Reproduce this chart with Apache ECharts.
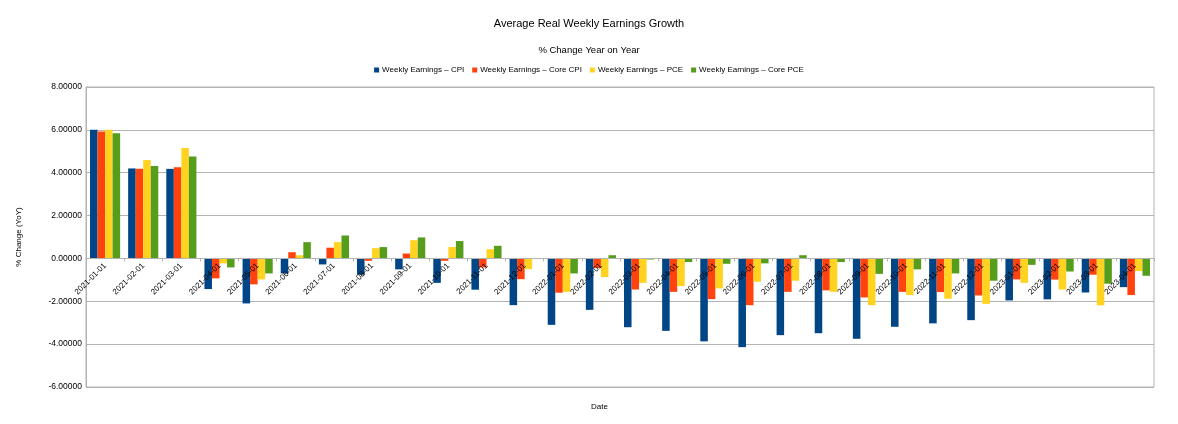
<!DOCTYPE html>
<html>
<head>
<meta charset="utf-8">
<script src="https://cdn.jsdelivr.net/npm/echarts@6/dist/echarts.min.js"></script>
<style>html,body{margin:0;padding:0;background:#fff;}#c{width:1178px;height:424px;}</style>
</head>
<body>
<div id="c"></div>
<script>
const categories = ["2021-01-01","2021-02-01","2021-03-01","2021-04-01","2021-05-01","2021-06-01","2021-07-01","2021-08-01","2021-09-01","2021-10-01","2021-11-01","2021-12-01","2022-01-01","2022-02-01","2022-03-01","2022-04-01","2022-05-01","2022-06-01","2022-07-01","2022-08-01","2022-09-01","2022-10-01","2022-11-01","2022-12-01","2023-01-01","2023-02-01","2023-03-01","2023-04-01"];
const cpi     = [6.00, 4.20, 4.18, -1.43, -2.10, -0.70, -0.28, -0.76, -0.51, -1.14, -1.46, -2.18, -3.10, -2.40, -3.21, -3.38, -3.87, -4.14, -3.58, -3.49, -3.75, -3.19, -3.03, -2.88, -1.96, -1.91, -1.59, -1.34];
const coreCpi = [5.92, 4.18, 4.26, -0.93, -1.21, 0.29, 0.50, -0.11, 0.23, -0.11, -0.42, -0.97, -1.60, -0.45, -1.45, -1.56, -1.90, -2.18, -1.56, -1.49, -1.82, -1.56, -1.57, -1.73, -0.98, -0.99, -0.76, -1.71];
const pce     = [6.00, 4.59, 5.15, -0.23, -0.98, 0.15, 0.76, 0.48, 0.85, 0.53, 0.43, -0.50, -1.56, -0.87, -1.14, -1.29, -1.40, -1.09, -1.04, -1.56, -2.18, -1.71, -1.88, -2.12, -1.14, -1.45, -2.19, -0.59];
const corePce = [5.84, 4.31, 4.76, -0.42, -0.70, 0.76, 1.07, 0.53, 0.98, 0.81, 0.59, -0.02, -0.70, 0.15, -0.05, -0.17, -0.25, -0.23, 0.15, -0.17, -0.72, -0.51, -0.70, -1.04, -0.30, -0.61, -1.18, -0.81];
const seriesNames = ["Weekly Earnings \u2013 CPI","Weekly Earnings \u2013 Core CPI","Weekly Earnings \u2013 PCE","Weekly Earnings \u2013 Core PCE"];
const colors = ["#004586","#ff420e","#ffd320","#579d1c"];
const yMin = -6, yMax = 8, yStep = 2;

const font = "Liberation Sans, Arial, sans-serif";
const gridTop = 87, gridBottom = 37, H = 424;
const plotH = H - gridTop - gridBottom;
const zeroOffset = -plotH * (0 - yMin) / (yMax - yMin);

const chart = echarts.init(document.getElementById('c'));
const mk = (name, data, color) => ({
  name, type: 'bar', data, barGap: '0%', barCategoryGap: '21%', z: 2,
  itemStyle: { color }, emphasis: { disabled: true }
});
chart.setOption({
  animation: false,
  textStyle: { fontFamily: font, color: '#000' },
  title: [
    { text: 'Average Real Weekly Earnings Growth', left: 'center', top: 13, textStyle: { fontSize: 11, fontWeight: 'normal', color: '#000', fontFamily: font } },
    { text: '% Change Year on Year', left: 'center', top: 40, textStyle: { fontSize: 9.5, fontWeight: 'normal', color: '#000', fontFamily: font } }
  ],
  legend: {
    top: 61, left: 'center', itemWidth: 5, itemHeight: 5, itemGap: 8,
    icon: 'rect', textStyle: { fontSize: 8, color: '#000', fontFamily: font, padding: [0,0,0,-2] },
    data: seriesNames
  },
  color: colors,
  grid: { left: 86, right: 24, top: gridTop, bottom: gridBottom, show: true, borderColor: '#b3b3b3', borderWidth: 1 },
  xAxis: {
    type: 'category', data: categories, z: 10,
    offset: zeroOffset,
    axisLine: { onZero: false, lineStyle: { color: '#b3b3b3' } },
    axisTick: { show: true, length: 3, lineStyle: { color: '#b3b3b3' } },
    axisLabel: { rotate: 45, fontSize: 8, color: '#000', margin: 6, fontFamily: font, interval: 0 },
    splitLine: { show: false }
  },
  yAxis: {
    type: 'value', min: yMin, max: yMax, interval: yStep,
    name: '% Change (YoY)', nameLocation: 'middle', nameGap: 63, nameRotate: 90,
    nameTextStyle: { fontSize: 8, color: '#000', fontFamily: font },
    axisLine: { show: true, lineStyle: { color: '#b3b3b3' } },
    axisTick: { show: false },
    axisLabel: { fontSize: 8.5, color: '#000', margin: 4, fontFamily: font, formatter: v => v.toFixed(5) },
    splitLine: { lineStyle: { color: '#b3b3b3' } }
  },
  graphic: [
    { type: 'text', left: 591, top: 403, style: { text: 'Date', fontSize: 8, fill: '#000', fontFamily: font } }
  ],
  series: [
    mk(seriesNames[0], cpi, colors[0]),
    mk(seriesNames[1], coreCpi, colors[1]),
    mk(seriesNames[2], pce, colors[2]),
    mk(seriesNames[3], corePce, colors[3])
  ]
});
</script>
</body>
</html>
